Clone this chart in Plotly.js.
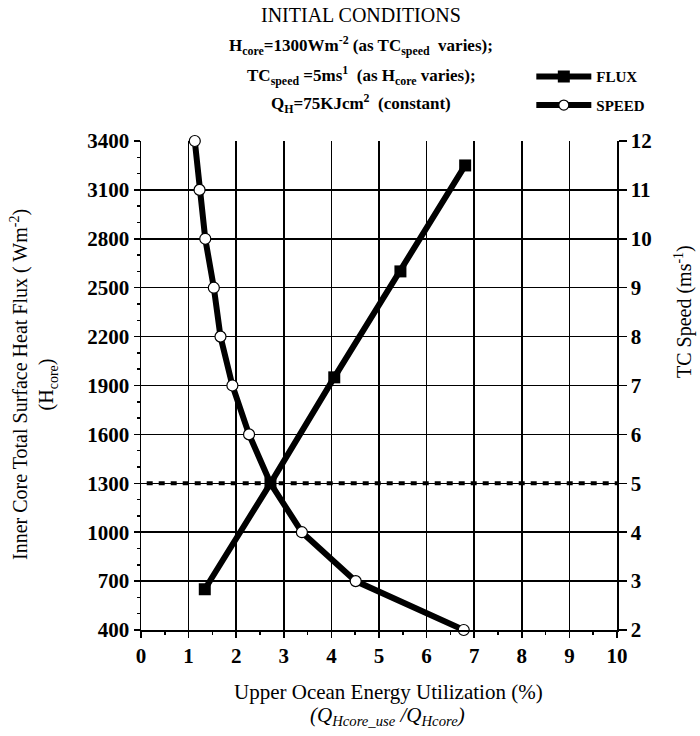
<!DOCTYPE html>
<html>
<head>
<meta charset="utf-8">
<script src="https://cdn.plot.ly/plotly-3.0.1.min.js"></script>
<style>html,body{margin:0;padding:0;background:#fff;}#chart{width:700px;height:736px;}</style>
</head>
<body>
<div id="chart"></div>
<script>
// Flux series: x = utilization (%), y = inner core heat flux (W m^-2)
const fluxUtil = [1.34, 2.72, 4.06, 5.45, 6.81];
const fluxValues = [650, 1300, 1950, 2600, 3250];
// Speed series: x = utilization (%), y = TC speed (m s^-1)
const speedUtil = [1.13, 1.23, 1.35, 1.53, 1.67, 1.92, 2.27, 2.72, 3.38, 4.51, 6.78];
const speedValues = [12, 11, 10, 9, 8, 7, 6, 5, 4, 3, 2];
// Initial-condition reference level
const refLevelX = [0.12, 10];
const refLevelFlux = [1300, 1300];
// Axis ticks
const xTicks = [0,1,2,3,4,5,6,7,8,9,10];
const fluxTicks = [400,700,1000,1300,1600,1900,2200,2500,2800,3100,3400];
const speedTicks = [2,3,4,5,6,7,8,9,10,11,12];

const serif = 'Liberation Serif, Times New Roman, serif';

const traces = [
  {
    x: refLevelX, y: refLevelFlux, mode: 'lines', showlegend: false, hoverinfo: 'skip',
    line: {color: '#000', width: 4, dash: '6px,6px'}
  },
  {
    name: 'FLUX', x: fluxUtil, y: fluxValues, mode: 'lines+markers', legendgroup: 'a',
    line: {color: '#000', width: 6}, cliponaxis: false,
    marker: {symbol: 'square', size: 12, color: '#000'}
  },
  {
    name: 'SPEED', x: speedUtil, y: speedValues, yaxis: 'y2', mode: 'lines+markers', legendgroup: 'b',
    line: {color: '#000', width: 6}, cliponaxis: false,
    marker: {symbol: 'circle', size: speedValues.map(v => v === 5 ? 0 : 11), color: '#ffffff', opacity: 1, line: {color: '#000', width: 1.2}}
  }
];

const tickFont = {family: serif, size: 21, color: '#000', weight: 'bold'};

const layout = {
  width: 700, height: 736,
  margin: {l: 141, r: 83, t: 141, b: 106},
  paper_bgcolor: '#fff', plot_bgcolor: '#fff',
  showlegend: true,
  legend: {
    x: 0.82, y: 1.165, xanchor: 'left', yanchor: 'top',
    font: {family: serif, size: 15, color: '#000', weight: 'bold'},
    itemwidth: 55, bgcolor: 'rgba(0,0,0,0)', traceorder: 'grouped', tracegroupgap: 6
  },
  xaxis: {
    range: [0, 10], tickvals: xTicks, ticktext: xTicks.map(String),
    showgrid: true, gridcolor: '#000', gridwidth: 1.5,
    showline: true, linecolor: '#000', linewidth: 1.5,
    ticks: 'outside', ticklen: 6, tickwidth: 1.5, tickcolor: '#000',
    minor: {dtick: 0.5, ticks: 'outside', ticklen: 3, tickwidth: 1.5, tickcolor: '#000', showgrid: false},
    tickfont: tickFont, zeroline: false, fixedrange: true
  },
  yaxis: {
    range: [400, 3400], tickvals: fluxTicks, ticktext: fluxTicks.map(String),
    showgrid: true, gridcolor: '#000', gridwidth: 1.5,
    showline: true, linecolor: '#000', linewidth: 1.5,
    ticks: 'outside', ticklen: 6, tickwidth: 1.5, tickcolor: '#000',
    minor: {dtick: 100, ticks: 'outside', ticklen: 3, tickwidth: 1.5, tickcolor: '#000', showgrid: false},
    tickfont: tickFont, zeroline: false, fixedrange: true
  },
  yaxis2: {
    range: [2, 12], tickvals: speedTicks, ticktext: speedTicks.map(String),
    overlaying: 'y', side: 'right', showgrid: false,
    showline: true, linecolor: '#000', linewidth: 1.5,
    ticks: 'outside', ticklen: 8, tickwidth: 1.5, tickcolor: '#000',
    tickfont: tickFont, zeroline: false, fixedrange: true
  },
  annotations: [
    {xref: 'paper', yref: 'paper', x: 0, y: 0, yanchor: 'middle', xanchor: 'center', showarrow: false,
     text: 'INITIAL CONDITIONS', font: {family: serif, size: 20, color: '#000'}},
    {xref: 'paper', yref: 'paper', x: 0, y: 0, xanchor: 'center', yanchor: 'middle', showarrow: false,
     text: '<b>H<sub>core</sub>=1300Wm<sup>-2</sup> (as TC<sub>speed</sub>  varies);</b>', font: {family: serif, size: 17, color: '#000'}},
    {xref: 'paper', yref: 'paper', x: 0, y: 0, xanchor: 'center', yanchor: 'middle', showarrow: false,
     text: '<b>TC<sub>speed</sub> =5ms<sup>1</sup>  (as H<sub>core</sub> varies);</b>', font: {family: serif, size: 17, color: '#000'}},
    {xref: 'paper', yref: 'paper', x: 0, y: 0, xanchor: 'center', yanchor: 'middle', showarrow: false,
     text: '<b>Q<sub>H</sub>=75KJcm<sup>2</sup>  (constant)</b>', font: {family: serif, size: 17, color: '#000'}},
    {xref: 'paper', yref: 'paper', x: 0, y: 0, xanchor: 'center', yanchor: 'middle', showarrow: false,
     text: 'Upper Ocean Energy Utilization (%)', font: {family: serif, size: 21, color: '#000'}},
    {xref: 'paper', yref: 'paper', x: 0, y: 0, xanchor: 'center', yanchor: 'middle', showarrow: false,
     text: '<i>(Q<sub>Hcore_use</sub> /Q<sub>Hcore</sub>)</i>', font: {family: serif, size: 21, color: '#000'}},
    {xref: 'paper', yref: 'paper', x: 0, y: 0, xanchor: 'center', yanchor: 'middle', showarrow: false, textangle: -90,
     text: 'Inner Core Total Surface Heat Flux ( Wm<sup>-2</sup>)<br>(H<sub>core</sub>)', font: {family: serif, size: 20, color: '#000'}},
    {xref: 'paper', yref: 'paper', x: 0, y: 0, xanchor: 'center', yanchor: 'middle', showarrow: false, textangle: -90,
     text: 'TC Speed (ms<sup>-1</sup>)', font: {family: serif, size: 20, color: '#000'}}
  ]
};

// position annotations by pixel coordinates (converted to paper fractions)
const plotL = 141, plotW = 476, plotT = 141, plotH = 489;
const px = x => (x - plotL) / plotW;
const py = y => (plotT + plotH - y) / plotH;
const pos = [[361,15],[361,45],[361,76],[361,104],[388,692],[387,716],[34,385],[683,312]];
layout.annotations.forEach((a, i) => { a.x = px(pos[i][0]); a.y = py(pos[i][1]); });

Plotly.newPlot('chart', traces, layout, {staticPlot: true});
</script>
</body>
</html>
